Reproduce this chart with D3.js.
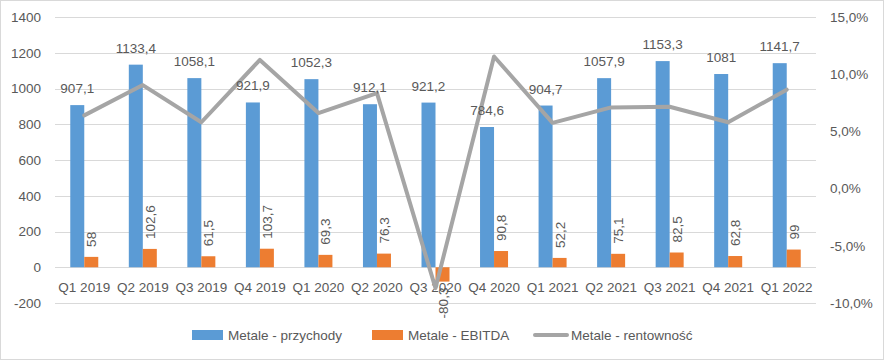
<!DOCTYPE html>
<html><head><meta charset="utf-8">
<script src="https://cdn.jsdelivr.net/npm/d3@7/dist/d3.min.js"></script>
<style>body{margin:0;background:#fff}svg{display:block}text{font-family:"Liberation Sans",Arial,sans-serif;fill:#595959}</style>
</head><body>
<script>
const categories = ["Q1 2019","Q2 2019","Q3 2019","Q4 2019","Q1 2020","Q2 2020","Q3 2020","Q4 2020","Q1 2021","Q2 2021","Q3 2021","Q4 2021","Q1 2022"];
const revenue = [907.1,1133.4,1058.1,921.9,1052.3,912.1,921.2,784.6,904.7,1057.9,1153.3,1081,1141.7];
const ebitda = [58,102.6,61.5,103.7,69.3,76.3,-80.3,90.8,52.2,75.1,82.5,62.8,99];
const margin = [6.4,9.05,5.8,11.25,6.6,8.35,-8.7,11.55,5.75,7.1,7.15,5.8,8.65];
const leftTicks = [-200,0,200,400,600,800,1000,1200,1400];
const rightTicks = [-10,-5,0,5,10,15];
const seriesNames = ["Metale - przychody","Metale - EBITDA","Metale - rentowność"];

const W=884,H=360;
const svg=d3.select("body").append("svg").attr("width",W).attr("height",H);
svg.append("rect").attr("x",0.5).attr("y",0.5).attr("width",W-1).attr("height",H-1).attr("fill","#fff").attr("stroke","#D9D9D9");

const x0=55,x1=816,yTop=17,yBot=303;
const x=d3.scaleBand().domain(categories).range([x0,x1]);
const y=d3.scaleLinear().domain([-200,1400]).range([yBot,yTop]);
const y2=d3.scaleLinear().domain([-10,15]).range([yBot,yTop]);
const fmt=v=>String(v).replace(".",",");
const bw=14;

// grid
svg.append("g").selectAll("line").data(leftTicks).join("line")
  .attr("x1",x0).attr("x2",x1).attr("y1",d=>Math.round(y(d))+0.5).attr("y2",d=>Math.round(y(d))+0.5)
  .attr("stroke","#D9D9D9").attr("stroke-width",1);

// left axis labels
const la=d3.axisLeft(y).tickValues(leftTicks).tickSize(0).tickPadding(0).tickFormat(d=>d);
const gl=svg.append("g").attr("transform","translate(41,0)").call(la);
gl.select(".domain").remove();
gl.selectAll("text").style("font-size","13.5px").style("fill","#595959").attr("font-family","Liberation Sans, Arial, sans-serif");

// right axis labels
const ra=d3.axisRight(y2).tickValues(rightTicks).tickSize(0).tickPadding(0).tickFormat(d=>d3.format(".1f")(d).replace(".",",").replace("−","-")+"%");
const gr=svg.append("g").attr("transform","translate(830,0)").call(ra);
gr.select(".domain").remove();
gr.selectAll("text").style("font-size","13.5px").style("fill","#595959").attr("font-family","Liberation Sans, Arial, sans-serif");

// bars
const cx=d=>x(d)+x.bandwidth()/2;
svg.append("g").selectAll("rect").data(categories).join("rect")
  .attr("x",d=>cx(d)-bw).attr("width",bw)
  .attr("y",(d,i)=>y(revenue[i])).attr("height",(d,i)=>y(0)-y(revenue[i]))
  .attr("fill","#5B9BD5");
svg.append("g").selectAll("rect").data(categories).join("rect")
  .attr("x",d=>cx(d)).attr("width",bw)
  .attr("y",(d,i)=>Math.min(y(ebitda[i]),y(0))).attr("height",(d,i)=>Math.abs(y(0)-y(ebitda[i])))
  .attr("fill","#ED7D31");

// x labels
svg.append("g").selectAll("text").data(categories).join("text")
  .attr("x",d=>cx(d)).attr("y",292).attr("text-anchor","middle").style("font-size","13.5px").text(d=>d);

// line
const line=d3.line().x((d,i)=>cx(categories[i])).y(d=>y2(d));
svg.append("path").datum(margin).attr("d",line).attr("fill","none")
  .attr("stroke","#A5A5A5").attr("stroke-width",4).attr("stroke-linejoin","round").attr("stroke-linecap","round");

// revenue labels
svg.append("g").selectAll("text").data(categories).join("text")
  .attr("x",d=>cx(d)-bw/2).attr("y",(d,i)=>y(revenue[i])-12).attr("text-anchor","middle")
  .style("font-size","13.5px").text((d,i)=>fmt(revenue[i]));

// ebitda labels rotated
svg.append("g").selectAll("text").data(categories).join("text")
  .attr("transform",(d,i)=>{
    const px=cx(d)+bw/2+5;
    const py=ebitda[i]>=0? y(ebitda[i])-10 : y(ebitda[i])+6;
    return `translate(${px},${py}) rotate(-90)`;})
  .attr("text-anchor",(d,i)=>ebitda[i]>=0?"start":"end")
  .style("font-size","13.5px").text((d,i)=>fmt(ebitda[i]));

// legend
const lg=svg.append("g");
lg.append("rect").attr("x",192).attr("y",330).attr("width",31).attr("height",10).attr("fill","#5B9BD5");
lg.append("text").attr("x",228).attr("y",340).style("font-size","13.5px").text(seriesNames[0]);
lg.append("rect").attr("x",372).attr("y",330).attr("width",31).attr("height",10).attr("fill","#ED7D31");
lg.append("text").attr("x",408).attr("y",340).style("font-size","13.5px").text(seriesNames[1]);
lg.append("line").attr("x1",535).attr("x2",567).attr("y1",335).attr("y2",335).attr("stroke","#A5A5A5").attr("stroke-width",4).attr("stroke-linecap","round");
lg.append("text").attr("x",571).attr("y",340).style("font-size","13.5px").text(seriesNames[2]);
</script>
</body></html>
